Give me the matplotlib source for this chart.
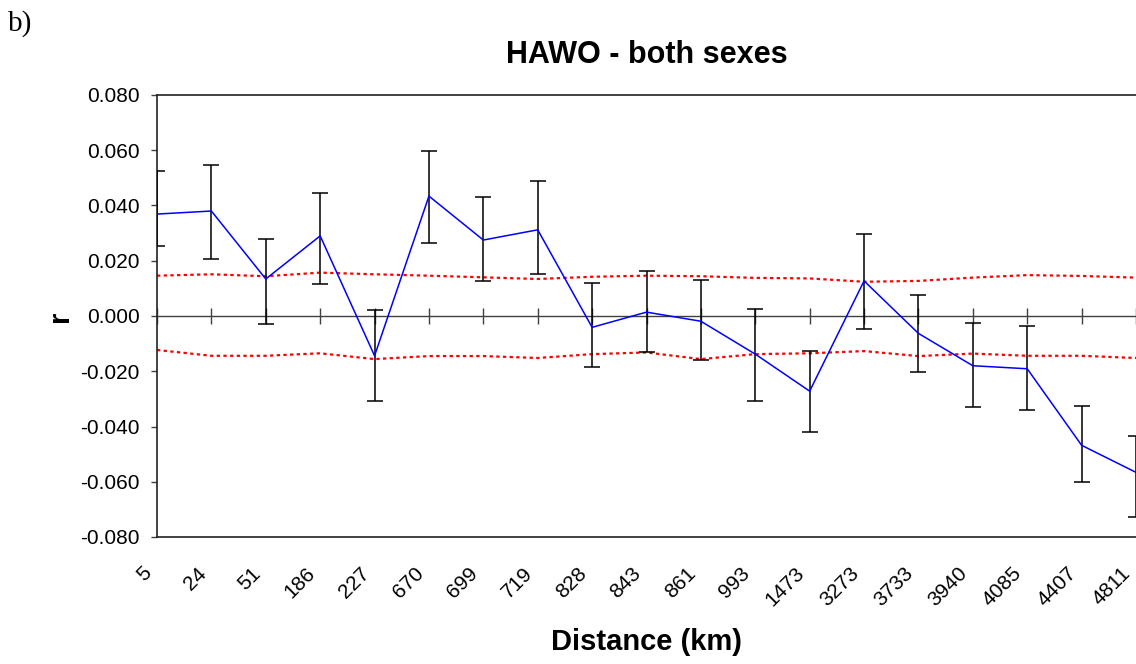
import numpy as np
import matplotlib
matplotlib.use("Agg")
import matplotlib.pyplot as plt
import matplotlib.transforms as mtransforms

plt.rcParams["font.family"] = ["Liberation Sans", "DejaVu Sans"]

# distance classes (km) and autocorrelation r with 95% bootstrap limits
distance = ["5", "24", "51", "186", "227", "670", "699", "719", "828", "843",
            "861", "993", "1473", "3273", "3733", "3940", "4085", "4407", "4811"]
r = [0.0369, 0.0380, 0.0134, 0.0290, -0.0144, 0.0434, 0.0275, 0.0312, -0.0041, 0.0014,
     -0.0019, -0.0138, -0.0272, 0.0127, -0.0063, -0.0180, -0.0191, -0.0468, -0.0566]
r_upper = [0.0525, 0.0545, 0.0280, 0.0445, 0.0021, 0.0596, 0.0430, 0.0490, 0.0119, 0.0163,
           0.0130, 0.0025, -0.0126, 0.0296, 0.0076, -0.0024, -0.0036, -0.0326, -0.0436]
r_lower = [0.0253, 0.0207, -0.0030, 0.0115, -0.0307, 0.0263, 0.0126, 0.0153, -0.0185, -0.0130,
           -0.0158, -0.0307, -0.0419, -0.0046, -0.0203, -0.0331, -0.0340, -0.0601, -0.0729]
# permutation null envelope
null_upper = [0.0146, 0.0151, 0.0144, 0.0157, 0.0151, 0.0146, 0.0140, 0.0134, 0.0142, 0.0146,
              0.0144, 0.0138, 0.0136, 0.0124, 0.0127, 0.0139, 0.0148, 0.0145, 0.0139]
null_lower = [-0.0123, -0.0144, -0.0144, -0.0135, -0.0156, -0.0145, -0.0145, -0.0152, -0.0138, -0.0132,
              -0.0156, -0.0138, -0.0135, -0.0127, -0.0145, -0.0136, -0.0144, -0.0144, -0.0152]

x = np.arange(len(distance))
r = np.array(r)
yerr = [r - np.array(r_lower), np.array(r_upper) - r]

fig = plt.figure(figsize=(11.36, 6.64), dpi=100)
ax = fig.add_axes([157 / 1136, 1 - 537 / 664, 979 / 1136, 442 / 664])

ax.axhline(0, color="#404040", lw=1.0, zorder=1)
ax.plot(x, np.zeros(len(x)), ls="none", marker="|", ms=11.5, mew=1.0, color="#404040", zorder=1)

ax.plot(x, null_upper, color="red", lw=1.6, dashes=(1.5, 1.5), zorder=2)
ax.plot(x, null_lower, color="red", lw=1.6, dashes=(1.5, 1.5), zorder=2)
ax.errorbar(x, r, yerr=yerr, fmt="none", ecolor="black", elinewidth=1.1,
            capsize=5.5, capthick=1.1, zorder=3)
ax.plot(x, r, color="#0000ff", lw=1.1, zorder=4)

ax.set_xlim(0, len(distance) - 1)
ax.set_ylim(-0.08, 0.08)
ax.set_yticks(np.arange(-0.08, 0.0801, 0.02))
ax.set_yticklabels([f"{v:.3f}" for v in np.arange(-0.08, 0.0801, 0.02)])
ax.tick_params(axis="y", direction="out", length=4.5, width=1.0, color="#404040",
               labelsize=15, pad=8)

ax.set_xticks(x)
ax.set_xticklabels(distance, rotation=45, ha="right", va="center", rotation_mode="anchor")
ax.tick_params(axis="x", length=0, labelsize=15, pad=24)
shift = mtransforms.ScaledTranslation(-6 / 72, 0, fig.dpi_scale_trans)
for lab in ax.get_xticklabels():
    lab.set_transform(lab.get_transform() + shift)

for side in ["left", "top", "bottom"]:
    ax.spines[side].set_color("#222222")
    ax.spines[side].set_linewidth(1.2)
ax.spines["right"].set_visible(False)

ax.set_title("HAWO - both sexes", fontsize=22, fontweight="bold", pad=23)
ax.set_xlabel("Distance (km)", fontsize=21, fontweight="bold")
ax.xaxis.set_label_coords(0.5, -0.205)
ax.set_ylabel("r", fontsize=21, fontweight="bold")
ax.yaxis.set_label_coords(-0.085, 0.5)

fig.text(8 / 1136, 1 - 31 / 664, "b)", fontsize=21, family="Liberation Serif", va="baseline")

fig.savefig("out.png", dpi=100)
